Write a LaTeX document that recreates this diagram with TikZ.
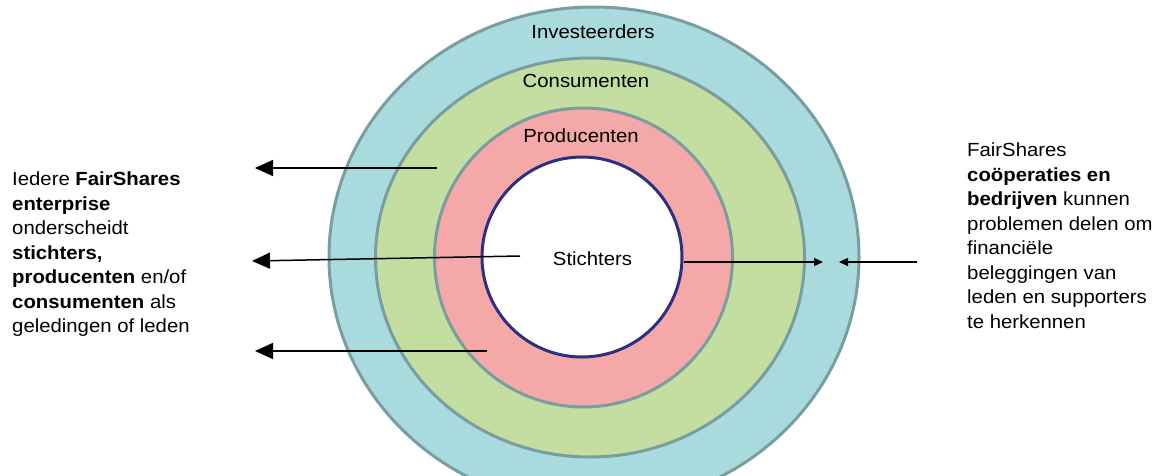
\documentclass[tikz,border=0pt]{standalone}
\usepackage{fontspec}
\usetikzlibrary{arrows.meta}
\newfontfamily\dia[FakeStretch=1.07]{Liberation Sans}
\definecolor{ringblue}{RGB}{168,218,222}
\definecolor{ringgreen}{RGB}{196,221,161}
\definecolor{ringpink}{RGB}{245,168,168}
\definecolor{ringedge}{RGB}{122,158,160}
\definecolor{coreedge}{RGB}{45,48,130}
\begin{document}
\begin{tikzpicture}[x=1pt,y=-1pt,
 ring/.style={draw=ringedge,line width=3pt},
 lbl/.style={font=\dia\fontsize{19}{24.5}\selectfont, inner sep=0pt, anchor=base},
 para/.style={font=\dia\fontsize{19}{24.5}\selectfont, inner sep=0pt, align=left, anchor=north west},
 bigarrow/.style={-{Triangle[length=18pt,width=16pt]}, line width=1.5pt, black},
 smallarrow/.style={-{Triangle[length=9pt,width=8pt]}, line width=1.3pt, black}]
\useasboundingbox (0,0) rectangle (1160,475);
\clip (0,0) rectangle (1160,475);
\fill[white] (0,0) rectangle (1160,475);
% rings
\draw[ring, fill=ringblue] (594,257) ellipse [x radius=265pt, y radius=250pt];
\draw[ring, fill=ringgreen] (590,257.5) ellipse [x radius=214.5pt, y radius=199.5pt];
\draw[ring, fill=ringpink] (583.5,257.5) ellipse [x radius=149pt, y radius=149.5pt];
\node[circle, draw=coreedge, line width=3pt, fill=white, minimum size=200pt, inner sep=0pt] (core) at (582,257) {};
% labels
\node[lbl] (inv) at (593,38) {Investeerders};
\node[lbl] (con) at (586,87) {Consumenten};
\node[lbl] (pro) at (581,142) {Producenten};
\node[lbl] (sti) at (592.5,265) {Stichters};
% texts
\node[para] (left) at (12,172) {Iedere \textbf{FairShares}\\ \textbf{enterprise}\\ onderscheidt\\ \textbf{stichters,}\\ \textbf{producenten} en/of\\ \textbf{consumenten} als\\ geledingen of leden};
\node[para] (right) at (967,143) {FairShares\\ \textbf{coöperaties en}\\ \textbf{bedrijven} kunnen\\ problemen delen om\\ financiële\\ beleggingen van\\ leden en supporters\\ te herkennen};
% arrow end points
\coordinate (a1s) at (437,168);
\coordinate (a1e) at (255,168);
\coordinate (a2s) at (520,256);
\coordinate (a2e) at (252,261);
\coordinate (a3s) at (487,351);
\coordinate (a3e) at (255,351);
\coordinate (b1e) at (823,262);
\coordinate (b2s) at (917,262);
\coordinate (b2e) at (839,262);
\draw[bigarrow] (a1s) -- (a1e);
\draw[bigarrow] (a2s) -- (a2e);
\draw[bigarrow] (a3s) -- (a3e);
\draw[smallarrow] ([yshift=-5pt]core.east) -- (b1e);
\draw[smallarrow] (b2s) -- (b2e);
\end{tikzpicture}
\end{document}
